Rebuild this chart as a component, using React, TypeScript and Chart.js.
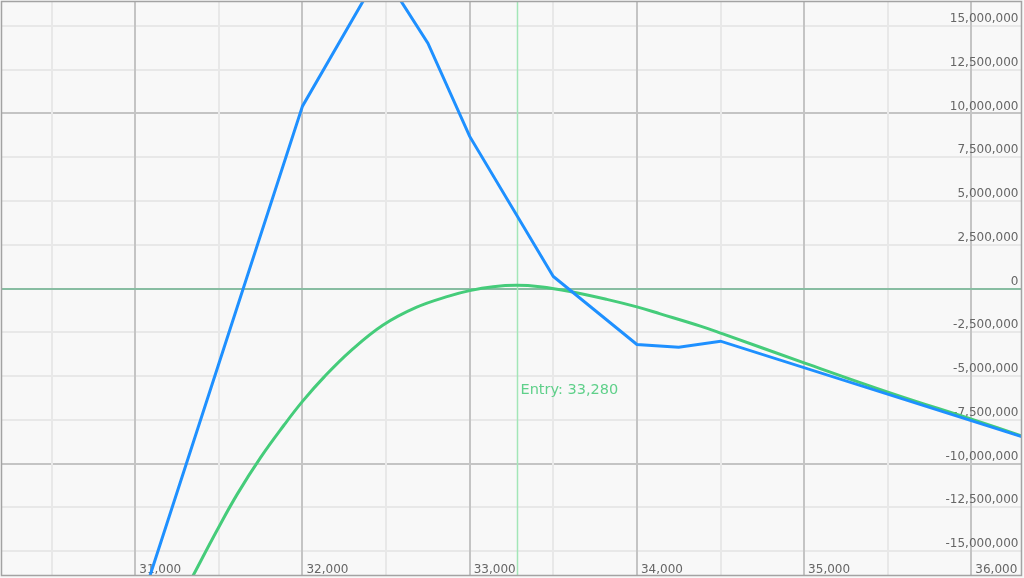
import React, { useEffect, useRef } from 'react';
import { Chart, registerables } from 'chart.js';

Chart.register(...registerables);

// Expiry P&L (blue, piecewise linear)
const expiryPrices = [31000, 32000, 32470, 32750, 33000, 33500, 34000, 34250, 34500, 36500];
const expiryPnl = [-19000000, 10420000, 18200000, 14020000, 8690000, 690000, -3200000, -3350000, -3010000, -9070000];

// Current P&L (green, smooth)
const todayPrices = [31300, 31350, 31490, 31610, 31750, 31890, 32000, 32130, 32290, 32480, 32680, 32880, 33000, 33140, 33280, 33420, 33600, 33820, 34000, 34140, 34380, 34510, 35000, 35510, 36010, 36300];
const todayPnl = [-17250000, -16330000, -13800000, -11750000, -9650000, -7800000, -6450000, -5050000, -3550000, -2100000, -1080000, -420000, -120000, 100000, 180000, 100000, -170000, -620000, -1050000, -1450000, -2150000, -2580000, -4250000, -5950000, -7500000, -8420000];

const entryPrice = 33280;
const entryLabel = 'Entry: ' + entryPrice.toLocaleString('en-US');

// Axes
const xMin = 30200;
const xMax = 36300;
const xGridTicks = [30500, 31000, 31500, 32000, 32500, 33000, 33500, 34000, 34500, 35000, 35500, 36000];
const xLabelStep = 1000;
const yMin = -16400000;
const yMax = 16400000;
const yGridTicks = [-15000000, -12500000, -10000000, -7500000, -5000000, -2500000, 0, 2500000, 5000000, 7500000, 10000000, 12500000, 15000000];
const yMajorStep = 10000000;

const FONT = '"DejaVu Sans", Verdana, sans-serif';

const decorPlugin = {
  id: 'decor',
  beforeDraw(chart: any) {
    const { ctx, width, height } = chart;
    ctx.save();
    ctx.fillStyle = '#f8f8f8';
    ctx.fillRect(0, 0, width, height);
    ctx.restore();
  },
  beforeDatasetsDraw(chart: any) {
    const { ctx, chartArea: a, scales } = chart;
    const x = scales.x;
    const y = scales.y;
    ctx.save();
    // zero line
    const y0 = Math.round(y.getPixelForValue(0));
    ctx.strokeStyle = '#88bda2';
    ctx.lineWidth = 2;
    ctx.beginPath();
    ctx.moveTo(a.left, y0);
    ctx.lineTo(a.right, y0);
    ctx.stroke();
    // entry line
    const ex = Math.round(x.getPixelForValue(entryPrice)) + 0.5;
    ctx.strokeStyle = '#a3e6b8';
    ctx.lineWidth = 1.5;
    ctx.beginPath();
    ctx.moveTo(ex, a.top);
    ctx.lineTo(ex, a.bottom);
    ctx.stroke();
    ctx.fillStyle = '#5fd08a';
    ctx.font = '14.5px ' + FONT;
    ctx.textAlign = 'left';
    ctx.textBaseline = 'middle';
    ctx.fillText(entryLabel, ex + 3, a.top + (a.bottom - a.top) * 0.677);
    ctx.restore();
  },
  afterDatasetsDraw(chart: any) {
    const { ctx, chartArea: a } = chart;
    ctx.save();
    ctx.strokeStyle = '#a3a3a3';
    ctx.lineWidth = 1.5;
    ctx.strokeRect(a.left, a.top, a.right - a.left, a.bottom - a.top);
    ctx.restore();
  },
};

const flatten = (s: any) => {
  s.paddingTop = 0;
  s.paddingBottom = 0;
  s.paddingLeft = 0;
  s.paddingRight = 0;
};

export default function App() {
  const canvasRef = useRef<HTMLCanvasElement | null>(null);

  useEffect(() => {
    document.body.style.margin = '0';
    const canvas = canvasRef.current;
    if (!canvas) return;
    const chart = new Chart(canvas, {
      type: 'line',
      data: {
        datasets: [
          {
            label: 'Expiry',
            data: expiryPrices.map((p, i) => ({ x: p, y: expiryPnl[i] })),
            borderColor: '#1e90ff',
            borderWidth: 3,
            pointRadius: 0,
            tension: 0,
            clip: 0,
          },
          {
            label: 'Today',
            data: todayPrices.map((p, i) => ({ x: p, y: todayPnl[i] })),
            borderColor: '#45cc7a',
            borderWidth: 3,
            pointRadius: 0,
            tension: 0.4,
            clip: 0,
          },
        ],
      },
      options: {
        responsive: false,
        animation: false,
        devicePixelRatio: 1,
        layout: { padding: { left: 1.5, top: 1.5, right: 2.5, bottom: 2.5 } },
        plugins: { legend: { display: false }, tooltip: { enabled: false } },
        scales: {
          y: {
            type: 'linear',
            position: 'right',
            min: yMin,
            max: yMax,
            afterBuildTicks: (s: any) => {
              s.ticks = yGridTicks.map((v) => ({ value: v }));
            },
            afterFit: (s: any) => {
              s.width = 0;
              flatten(s);
            },
            border: { display: false },
            grid: {
              drawTicks: false,
              lineWidth: 2,
              color: (c: any) =>
                c.tick && c.tick.value % yMajorStep === 0 ? '#c4c4c4' : '#e8e8e8',
            },
            ticks: {
              autoSkip: false,
              mirror: true,
              padding: -3,
              labelOffset: -7,
              color: '#666666',
              font: { family: FONT, size: 12 },
              callback: (v: any) => Number(v).toLocaleString('en-US'),
            },
          },
          x: {
            type: 'linear',
            min: xMin,
            max: xMax,
            afterBuildTicks: (s: any) => {
              s.ticks = xGridTicks.map((v) => ({ value: v }));
            },
            afterFit: (s: any) => {
              s.height = 0;
              flatten(s);
            },
            border: { display: false },
            grid: {
              drawTicks: false,
              lineWidth: 2,
              color: (c: any) =>
                c.tick && c.tick.value % xLabelStep === 0 ? '#c4c4c4' : '#e8e8e8',
            },
            ticks: {
              autoSkip: false,
              maxRotation: 0,
              minRotation: 0,
              mirror: true,
              align: 'start',
              padding: -2,
              labelOffset: 4,
              color: '#666666',
              font: { family: FONT, size: 12 },
              callback: (v: any) =>
                Number(v) % xLabelStep === 0 ? Number(v).toLocaleString('en-US') : '',
            },
          },
        },
      } as any,
      plugins: [decorPlugin],
    });
    return () => chart.destroy();
  }, []);

  return (
    <div style={{ width: 1024, height: 578 }}>
      <canvas ref={canvasRef} width={1024} height={578} style={{ display: 'block' }} />
    </div>
  );
}
